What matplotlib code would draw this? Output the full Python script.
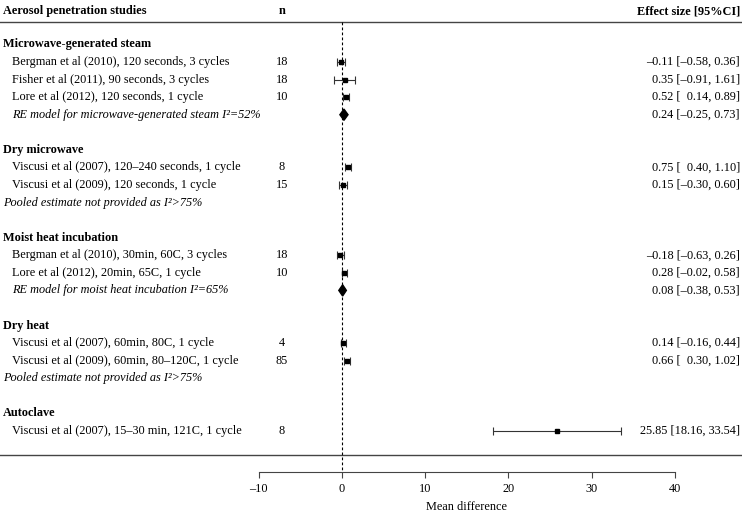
import matplotlib.pyplot as plt
import matplotlib.transforms as mtransforms
from matplotlib.patches import Polygon

plt.rcParams["font.family"] = ["Liberation Serif", "DejaVu Serif"]

# study rows (row index: 0 at top study, grows downward)
study_labels = [
    "Bergman et al (2010), 120 seconds, 3 cycles",
    "Fisher et al (2011), 90 seconds, 3 cycles",
    "Lore et al (2012), 120 seconds, 1 cycle",
    "Viscusi et al (2007), 120\u2013240 seconds, 1 cycle",
    "Viscusi et al (2009), 120 seconds, 1 cycle",
    "Bergman et al (2010), 30min, 60C, 3 cycles",
    "Lore et al (2012), 20min, 65C, 1 cycle",
    "Viscusi et al (2007), 60min, 80C, 1 cycle",
    "Viscusi et al (2009), 60min, 80\u2013120C, 1 cycle",
    "Viscusi et al (2007), 15\u201330 min, 121C, 1 cycle",
]
study_rows = [0, 1, 2, 6, 7, 11, 12, 16, 17, 21]
study_n = [18, 18, 10, 8, 15, 18, 10, 4, 85, 8]
study_est = [-0.11, 0.35, 0.52, 0.75, 0.15, -0.18, 0.28, 0.14, 0.66, 25.85]
study_lb = [-0.58, -0.91, 0.14, 0.40, -0.30, -0.63, -0.02, -0.16, 0.30, 18.16]
study_ub = [0.36, 1.61, 0.89, 1.10, 0.60, 0.26, 0.58, 0.44, 1.02, 33.54]

# pooled random-effects models
pooled_labels = ["RE model for microwave-generated steam I\u00b2=52%",
                 "RE model for moist heat incubation I\u00b2=65%"]
pooled_rows = [3, 13]
pooled_est = [0.24, 0.08]
pooled_lb = [-0.25, -0.38]
pooled_ub = [0.73, 0.53]

# notes where no pooled estimate was given
note_text = "Pooled estimate not provided as I\u00b2>75%"
note_rows = [8, 18]

group_labels = ["Microwave-generated steam", "Dry microwave", "Moist heat incubation",
                "Dry heat", "Autoclave"]
group_rows = [-1, 5, 10, 15, 20]

xticks = [-10, 0, 10, 20, 30, 40]


def fmt(v):
    s = f"{abs(v):.2f}"
    return ("\u2013" + s) if v < 0 else s


def fmt_ci(e, lb, ub):
    lo = "  " + fmt(lb) if 0 <= lb < 10 else fmt(lb)
    return f"{fmt(e)} [{lo}, {fmt(ub)}]"


W, H = 742, 514
fig = plt.figure(figsize=(W / 100, H / 100), dpi=100)
ax = fig.add_axes([258.7 / W, (H - 472) / H, (675 - 258.7) / W, 472 / H])

row_px = 17.57
y_top = -62 / row_px
y_bot = (472 - 62) / row_px
ax.set_xlim(-10, 40)
ax.set_ylim(y_bot, y_top)

trans = mtransforms.blended_transform_factory(fig.transFigure, ax.transData)
fs = 8.85
line_col = "#444444"

# header
ax.text(3 / W, -2.9, "Aerosol penetration studies", transform=trans, fontsize=fs,
        fontweight="bold", va="center", ha="left")
ax.text(282 / W, -2.9, "n", transform=trans, fontsize=fs, fontweight="bold",
        va="center", ha="center")
ax.text(740 / W, -2.9, "Effect size [95%CI]", transform=trans, fontsize=fs,
        fontweight="bold", va="center", ha="right")

y_line1 = (22 - 62) / row_px
y_line2 = (455 - 62) / row_px
for yl in (y_line1, y_line2):
    ax.plot([0, 1], [yl, yl], transform=trans, color=line_col, lw=1, clip_on=False)

ax.vlines(0, y_line1, y_bot, colors="black", linestyles=(0, (2.5, 2)), lw=0.8)

for lab, r in zip(group_labels, group_rows):
    ax.text(3 / W, r, lab, transform=trans, fontsize=fs, fontweight="bold",
            va="center", ha="left")

for lab, r, n, e, lb, ub in zip(study_labels, study_rows, study_n, study_est, study_lb, study_ub):
    ax.text(12 / W, r, lab, transform=trans, fontsize=fs, va="center", ha="left")
    ax.text(282 / W, r, str(n), transform=trans, fontsize=fs, va="center", ha="center")
    ax.text(740 / W, r, fmt_ci(e, lb, ub), transform=trans, fontsize=fs,
            va="center", ha="right")
    ax.errorbar(e, r, xerr=[[e - lb], [ub - e]], fmt="s", color="black", ms=3.3,
                ecolor="#333333", elinewidth=0.8, capsize=2.6, capthick=0.8)

for lab, r, e, lb, ub in zip(pooled_labels, pooled_rows, pooled_est, pooled_lb, pooled_ub):
    ax.text(12 / W, r, lab, transform=trans, fontsize=fs, style="italic",
            va="center", ha="left")
    ax.text(740 / W, r, fmt_ci(e, lb, ub), transform=trans, fontsize=fs,
            va="center", ha="right")
    ax.add_patch(Polygon([[lb, r], [e, r - 0.32], [ub, r], [e, r + 0.32]],
                         closed=True, color="black"))

for r in note_rows:
    ax.text(3 / W, r, note_text, transform=trans, fontsize=fs, style="italic",
            va="center", ha="left")

for s in ("top", "left", "right"):
    ax.spines[s].set_visible(False)
ax.spines["bottom"].set_color(line_col)
ax.spines["bottom"].set_bounds(-10, 40)
ax.set_yticks([])
ax.set_xticks(xticks)
ax.set_xticklabels([fmt(t).replace(".00", "") for t in xticks], fontsize=fs)
ax.tick_params(axis="x", direction="out", length=4, width=0.8, color=line_col, pad=4)
ax.set_xlabel("Mean difference", fontsize=fs, labelpad=4)
ax.patch.set_visible(False)

fig.savefig("out.png", dpi=100)
